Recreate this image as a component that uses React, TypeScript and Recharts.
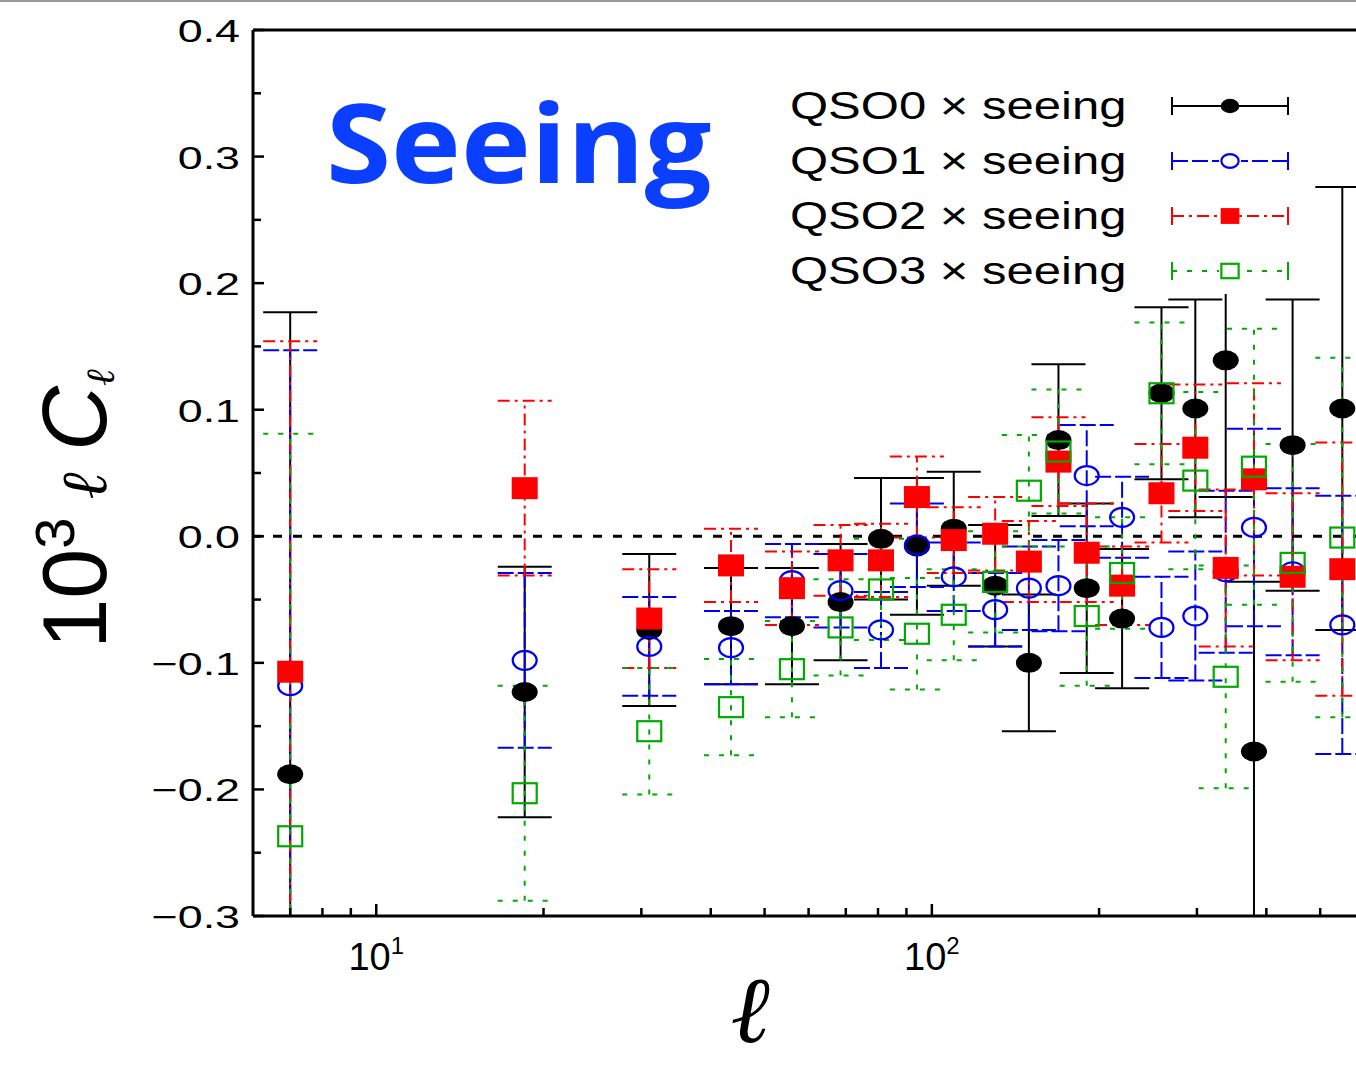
import {
  ComposedChart,
  Scatter,
  ErrorBar,
  XAxis,
  YAxis,
  ReferenceLine,
  Legend,
} from "recharts";

// multipole bin centres
const ELL = [7, 18.5, 31, 43.5, 56, 68.5, 81, 94, 109.5, 130, 149.5, 169, 190, 220, 259, 298, 338, 380, 446, 548];

// 10^3 l C_l and 1-sigma errors
const QSO0 = [-0.188, -0.123, -0.074, -0.071, -0.071, -0.052, -0.002, -0.008, 0.006, -0.039, -0.1, 0.076, -0.041, -0.065, 0.113, 0.101, 0.139, -0.17, 0.072, 0.101];
const QSO0_ERR = [0.365, 0.099, 0.06, 0.046, 0.046, 0.046, 0.048, 0.054, 0.045, 0.048, 0.054, 0.06, 0.067, 0.055, 0.068, 0.086, 0.108, 0.134, 0.115, 0.175];

const QSO1 = [-0.118, -0.098, -0.087, -0.088, -0.035, -0.043, -0.074, -0.007, -0.032, -0.058, -0.041, -0.039, 0.048, 0.015, -0.072, -0.063, -0.028, 0.007, -0.028, -0.07];
const QSO1_ERR = [0.265, 0.069, 0.039, 0.029, 0.029, 0.029, 0.03, 0.033, 0.027, 0.029, 0.033, 0.036, 0.04, 0.032, 0.04, 0.051, 0.064, 0.078, 0.066, 0.102];

const QSO2 = [-0.107, 0.038, -0.065, -0.023, -0.041, -0.019, -0.019, 0.031, -0.003, 0.002, -0.02, 0.059, -0.013, -0.039, 0.034, 0.07, -0.025, 0.045, -0.032, -0.026];
const QSO2_ERR = [0.261, 0.069, 0.039, 0.029, 0.029, 0.028, 0.029, 0.032, 0.026, 0.029, 0.032, 0.035, 0.039, 0.031, 0.039, 0.05, 0.062, 0.076, 0.066, 0.1];

const QSO3 = [-0.237, -0.203, -0.154, -0.135, -0.105, -0.072, -0.042, -0.077, -0.062, -0.036, 0.036, 0.067, -0.063, -0.029, 0.113, 0.044, -0.111, 0.055, -0.021, -0.001];
const QSO3_ERR = [0.318, 0.085, 0.05, 0.038, 0.038, 0.038, 0.04, 0.044, 0.036, 0.04, 0.044, 0.049, 0.055, 0.044, 0.056, 0.07, 0.088, 0.109, 0.094, 0.142];

const SERIES_NAMES = ["QSO0 × seeing", "QSO1 × seeing", "QSO2 × seeing", "QSO3 × seeing"];

const X_TICKS = [7, 8, 9, 10, 20, 30, 40, 50, 60, 70, 80, 90, 100, 200, 300, 400, 500];
const X_LABELS: Record<number, string> = { 10: "1", 100: "2" };
const Y_TICKS = [-0.3, -0.25, -0.2, -0.15, -0.1, -0.05, 0, 0.05, 0.1, 0.15, 0.2, 0.25, 0.3, 0.35, 0.4];

const FONT = "'Liberation Sans', Arial, sans-serif";

const toRows = (vals: number[], errs: number[]) =>
  ELL.map((ell, i) => ({ ell, y: vals[i], err: errs[i] }));

const series = [
  { name: SERIES_NAMES[0], data: toRows(QSO0, QSO0_ERR), color: "#000000", dash: undefined, kind: "dot" },
  { name: SERIES_NAMES[1], data: toRows(QSO1, QSO1_ERR), color: "#0000f0", dash: "16 4", kind: "circle" },
  { name: SERIES_NAMES[2], data: toRows(QSO2, QSO2_ERR), color: "#ff0000", dash: "12 5 3 5", kind: "fsquare" },
  { name: SERIES_NAMES[3], data: toRows(QSO3, QSO3_ERR), color: "#00aa00", dash: "5 10", kind: "square" },
];

function marker(kind: string, color: string, cx: number, cy: number, s = 1) {
  if (kind === "dot")
    return <ellipse cx={cx} cy={cy} rx={13 * s} ry={10 * s} fill={color} />;
  if (kind === "circle")
    return <ellipse cx={cx} cy={cy} rx={12 * s} ry={9.5 * s} fill="none" stroke={color} strokeWidth={2.2} />;
  if (kind === "fsquare")
    return <rect x={cx - 13 * s} y={cy - 11 * s} width={26 * s} height={22 * s} fill={color} />;
  return <rect x={cx - 12 * s} y={cy - 10 * s} width={24 * s} height={20 * s} fill="none" stroke={color} strokeWidth={2.2} />;
}

const fmtY = (v: number) => {
  const r = Math.round(v * 10) / 10;
  const s = Math.abs(r).toFixed(1);
  return r < 0 ? "\u2212" + s : s;
};

const YTick = (props: any) => {
  const { x, y, payload } = props;
  const v = payload.value;
  const major = Math.abs(v * 10 - Math.round(v * 10)) < 1e-6;
  return (
    <g>
      <line x1={x} x2={x + (major ? 11 : 8)} y1={y} y2={y} stroke="#000" strokeWidth={2.5} />
      {major && (
        <text
          transform={`translate(${x - 13},${y + 12}) scale(1.4,1)`}
          textAnchor="end"
          fontSize={32}
          fontFamily={FONT}
          fill="#000"
        >
          {fmtY(v)}
        </text>
      )}
    </g>
  );
};

const XTick = (props: any) => {
  const { x, y, payload } = props;
  const sup = X_LABELS[payload.value];
  return (
    <g>
      <line x1={x} x2={x} y1={y} y2={y - (sup ? 12 : 8)} stroke="#000" strokeWidth={2.5} />
      {sup && (
        <text x={x} y={y + 54} textAnchor="middle" fontSize={38} fontFamily={FONT} fill="#000">
          10
          <tspan dy={-16} fontSize={24}>
            {sup}
          </tspan>
        </text>
      )}
    </g>
  );
};

const YLabel = () => (
  <text transform="translate(106,507) rotate(-90)" textAnchor="middle" fontFamily={FONT} fontSize={90} fill="#000">
    10
    <tspan dy={-32} fontSize={56}>3</tspan>
    <tspan dy={32} dx={18} fontFamily="'DejaVu Serif', serif" fontStyle="italic" fontSize={64}>ℓ</tspan>
    <tspan dx={22} fontStyle="italic">C</tspan>
    <tspan dy={8} fontFamily="'DejaVu Serif', serif" fontStyle="italic" fontSize={40}>ℓ</tspan>
  </text>
);

const XLabel = () => (
  <text x={750} y={1040} textAnchor="middle" fontFamily="'DejaVu Serif', serif" fontStyle="italic" fontSize={94} fill="#000">
    ℓ
  </text>
);

const LegendBox = () => (
  <svg width={525} height={217}>
    <rect x={0} y={0} width={525} height={217} fill="#fff" />
    {series.map((s, i) => {
      const cy = 29 + i * 55;
      return (
        <g key={s.name}>
          <text transform={`translate(10,${cy + 13}) scale(1.29,1)`} fontSize={38} fontFamily={FONT} fill="#000">
            {s.name}
          </text>
          <line x1={392} x2={508} y1={cy} y2={cy} stroke={s.color} strokeWidth={2} strokeDasharray={s.dash} />
          <line x1={392} x2={392} y1={cy - 9} y2={cy + 9} stroke={s.color} strokeWidth={2} />
          <line x1={508} x2={508} y1={cy - 9} y2={cy + 9} stroke={s.color} strokeWidth={2} />
          {s.kind === "circle" || s.kind === "square" ? (
            <rect x={439} y={cy - 9} width={22} height={18} fill="#fff" />
          ) : null}
          {marker(s.kind, s.color, 450, cy, 0.72)}
        </g>
      );
    })}
  </svg>
);

export default function App() {
  return (
    <div
      style={{
        position: "absolute",
        left: 0,
        top: 0,
        width: 1356,
        height: 1067,
        overflow: "hidden",
        background: "#fff",
        borderTop: "2px solid #999",
        boxSizing: "border-box",
      }}
    >
      <style>{`.recharts-errorBars, .recharts-errorBar { clip-path: url(#plotClip); }`}</style>
      <ComposedChart width={1356} height={1065} margin={{ top: 28, right: 0, bottom: 91, left: 53 }}>
        <XAxis
          dataKey="ell"
          type="number"
          scale="log"
          domain={[6, 580]}
          allowDataOverflow
          ticks={X_TICKS}
          interval={0}
          tick={<XTick />}
          tickLine={false}
          tickSize={0}
          tickMargin={0}
          height={60}
          axisLine={{ stroke: "#000", strokeWidth: 3 }}
          label={{ content: XLabel }}
        />
        <YAxis
          dataKey="y"
          type="number"
          domain={[-0.3, 0.4]}
          allowDataOverflow
          ticks={Y_TICKS}
          interval={0}
          tick={<YTick />}
          tickLine={false}
          tickSize={0}
          tickMargin={0}
          width={200}
          axisLine={{ stroke: "#000", strokeWidth: 3 }}
          label={{ content: YLabel }}
        />
        <ReferenceLine y={0.4} stroke="#000" strokeWidth={3} />
        <ReferenceLine y={0} stroke="#000" strokeWidth={3} strokeDasharray="9 11" />
        {series.map((s) => (
          <Scatter
            key={s.name}
            name={s.name}
            data={s.data}
            isAnimationActive={false}
            shape={(p: any) => marker(s.kind, s.color, p.cx, p.cy)}
          >
            <ErrorBar
              dataKey="err"
              direction="y"
              width={27}
              stroke={s.color}
              strokeWidth={2}
              strokeDasharray={s.dash}
              isAnimationActive={false}
            />
          </Scatter>
        ))}
        <Legend
          layout="vertical"
          align="center"
          verticalAlign="middle"
          content={LegendBox}
          wrapperStyle={{ left: 780, top: 75, width: 525, height: 217 }}
        />
      </ComposedChart>
      <svg style={{ position: "absolute", left: 0, top: 0, pointerEvents: "none" }} width={1356} height={1065}>
        <defs>
          <clipPath id="plotClip" clipPathUnits="userSpaceOnUse">
            <rect x={253} y={28} width={1103} height={886} />
          </clipPath>
        </defs>
        <text
          transform="translate(326,181) scale(1.075,1)"
          fontFamily="'Open Sans', sans-serif"
          fontWeight={700}
          fontSize={110}
          fill="#0b3fff"
        >
          Seeing
        </text>
      </svg>
    </div>
  );
}
